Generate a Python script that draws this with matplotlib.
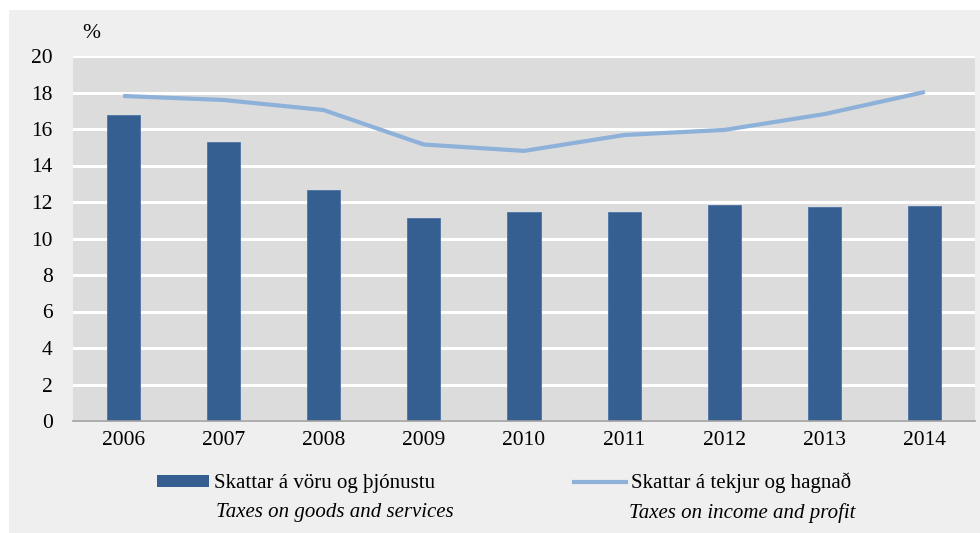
import matplotlib
matplotlib.use("Agg")
import matplotlib.pyplot as plt
from matplotlib.patches import Rectangle, Patch
from matplotlib.lines import Line2D

years = ["2006", "2007", "2008", "2009", "2010", "2011", "2012", "2013", "2014"]
goods_services = [16.77, 15.29, 12.66, 11.12, 11.45, 11.45, 11.84, 11.73, 11.78]
income_profit = [17.81, 17.59, 17.04, 15.15, 14.80, 15.67, 15.95, 16.82, 18.03]
yticks = [0, 2, 4, 6, 8, 10, 12, 14, 16, 18, 20]

label_bar = "Skattar á vöru og þjónustu"
label_bar_en = "Taxes on goods and services"
label_line = "Skattar á tekjur og hagnað"
label_line_en = "Taxes on income and profit"

BAR = "#355F91"
LINE = "#8EB1DA"
PLOTBG = "#DCDCDC"
PANEL = "#EFEFEF"

plt.rcParams["font.family"] = ["Liberation Serif", "DejaVu Serif"]

W, H = 980, 533
fig = plt.figure(figsize=(W / 100, H / 100), dpi=100, facecolor="white")
fig.patches.append(Rectangle((9 / W, 0), 1, 1 - 10 / H, transform=fig.transFigure,
                             facecolor=PANEL, edgecolor="none", zorder=-10))

left, right, top, bottom = 73, 975, 56, 421
ax = fig.add_axes([left / W, 1 - bottom / H, (right - left) / W, (bottom - top) / H])
ax.set_zorder(2)
ax.set_facecolor(PLOTBG)

x = list(range(len(years)))
ax.bar(x, goods_services, width=0.33, color=BAR, edgecolor="#4a74a6", linewidth=0.6, zorder=3)
ax.plot(x, income_profit, color=LINE, linewidth=3.0, zorder=4, solid_capstyle="butt")

ax.set_xlim(-0.5, len(years) - 0.5)
ax.set_ylim(0, 20)
ax.set_yticks(yticks)
ax.set_yticklabels([str(v) for v in yticks], fontsize=15.5)
ax.set_xticks(x)
ax.set_xticklabels(years, fontsize=15.5)
ax.tick_params(axis="y", length=0, pad=14.5)
ax.tick_params(axis="x", length=0, pad=7.5)
ax.grid(axis="y", color="white", linewidth=2.2, zorder=1)
ax.set_axisbelow(True)
for s in ["left", "right", "top"]:
    ax.spines[s].set_visible(False)
ax.spines["bottom"].set_color("#A0A0A0")
ax.spines["bottom"].set_linewidth(1.2)
ax.spines["bottom"].set_zorder(5)

fig.text(82 / W, 1 - 33 / H, "%", fontsize=15.5, va="center", ha="left")

# Legend
handles = [Patch(facecolor=BAR, edgecolor="none"),
           Line2D([0], [0], color=LINE, linewidth=3.0)]
leg = fig.legend(handles, [label_bar, label_line], ncol=2, frameon=False,
                 fontsize=15, loc="center left",
                 bbox_to_anchor=(157 / W, 1 - 483 / H),
                 handlelength=2.5, handleheight=0.5, handletextpad=0.25,
                 columnspacing=6.65, borderaxespad=0, borderpad=0)
fig.text(216 / W, 1 - 513 / H, label_bar_en, fontsize=15, style="italic", va="center", ha="left")
fig.text(629 / W, 1 - 513 / H, label_line_en, fontsize=15, style="italic", va="center", ha="left")

fig.savefig("out.png", dpi=100, facecolor=fig.get_facecolor())
